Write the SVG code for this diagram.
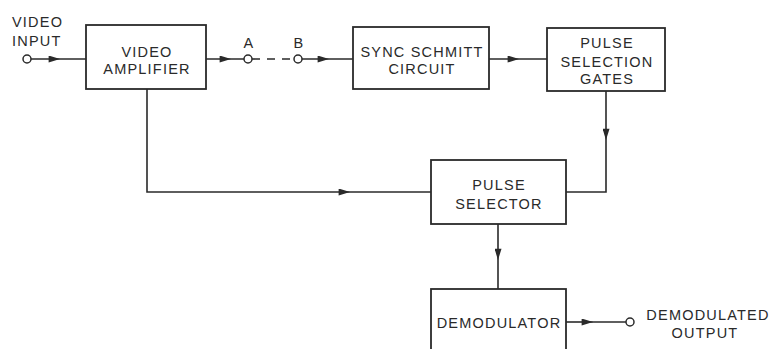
<svg xmlns="http://www.w3.org/2000/svg" width="774" height="349" viewBox="0 0 774 349">
<style>
.box{fill:none;stroke:#2a2a2a;stroke-width:1.8}
.ln{fill:none;stroke:#2a2a2a;stroke-width:1.6}
.term{fill:#fff;stroke:#2a2a2a;stroke-width:1.5}
text{font-family:"Liberation Sans",Arial,sans-serif;font-size:14.5px;fill:#2a2a2a;letter-spacing:1.2px}
.c{text-anchor:middle}
</style>
<defs>
<marker id="ah" viewBox="0 0 13 8" refX="13" refY="4" markerUnits="userSpaceOnUse" markerWidth="14" markerHeight="7" orient="auto">
<path d="M0,0 L13,4 L0,8 z" fill="#2a2a2a"/>
</marker>
</defs>
<rect width="774" height="349" fill="#fff"/>
<g id="connectors">
<path class="ln" d="M31,59 L60,59 L86,59" marker-mid="url(#ah)"/>
<path class="ln" d="M206,59 L231,59 L244,59" marker-mid="url(#ah)"/>
<path class="ln" d="M252,59 L294,59" stroke-dasharray="8,7"/>
<path class="ln" d="M302,59 L329,59 L353,59" marker-mid="url(#ah)"/>
<path class="ln" d="M489,59 L519,59 L547,59" marker-mid="url(#ah)"/>
<path class="ln" d="M606,91 L606,140" marker-end="url(#ah)"/>
<path class="ln" d="M606,140 L606,192 L566,192"/>
<path class="ln" d="M147,89 L147,192 L350,192" marker-end="url(#ah)"/>
<path class="ln" d="M350,192 L431,192"/>
<path class="ln" d="M498,224 L498,260" marker-end="url(#ah)"/>
<path class="ln" d="M498,260 L498,289"/>
<path class="ln" d="M566,322 L593,322" marker-end="url(#ah)"/>
<path class="ln" d="M593,322 L626,322"/>
</g>
<g id="video-input">
<circle class="term" cx="27" cy="59" r="4"/>
<text x="12" y="27">VIDEO</text>
<text x="12" y="46">INPUT</text>
</g>
<g id="video-amplifier">
<rect class="box" x="86" y="25" width="120" height="64"/>
<text class="c" x="147" y="57">VIDEO</text>
<text class="c" x="147" y="74">AMPLIFIER</text>
</g>
<g id="point-a">
<circle class="term" cx="248" cy="59" r="4"/>
<text class="c" x="249" y="48">A</text>
</g>
<g id="point-b">
<circle class="term" cx="298" cy="59" r="4"/>
<text class="c" x="299" y="48">B</text>
</g>
<g id="sync-schmitt">
<rect class="box" x="353" y="27" width="136" height="62"/>
<text class="c" x="422" y="57">SYNC SCHMITT</text>
<text class="c" x="422" y="74">CIRCUIT</text>
</g>
<g id="pulse-selection-gates">
<rect class="box" x="547" y="28" width="118" height="63"/>
<text class="c" x="607" y="48">PULSE</text>
<text class="c" x="607" y="67">SELECTION</text>
<text class="c" x="607" y="84">GATES</text>
</g>
<g id="pulse-selector">
<rect class="box" x="431" y="160" width="135" height="64"/>
<text class="c" x="499" y="190">PULSE</text>
<text class="c" x="499" y="209">SELECTOR</text>
</g>
<g id="demodulator">
<rect class="box" x="431" y="289" width="135" height="70"/>
<text class="c" x="499" y="328">DEMODULATOR</text>
</g>
<g id="demodulated-output">
<circle class="term" cx="630" cy="322" r="4"/>
<text class="c" x="708" y="320">DEMODULATED</text>
<text class="c" x="705" y="338">OUTPUT</text>
</g>
</svg>
